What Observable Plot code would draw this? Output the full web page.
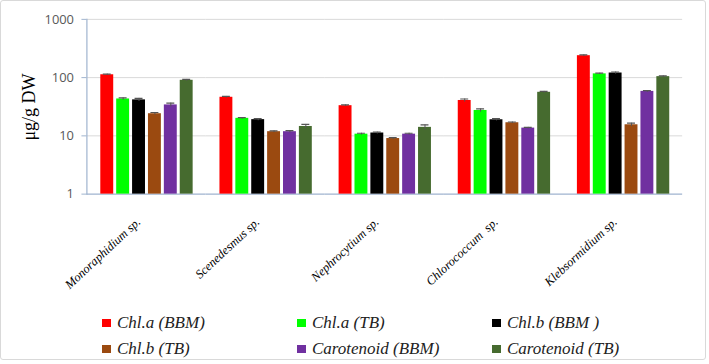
<!DOCTYPE html>
<html>
<head>
<meta charset="utf-8">
<script src="https://cdn.jsdelivr.net/npm/d3@7"></script>
<script src="https://cdn.jsdelivr.net/npm/@observablehq/plot@0.6"></script>
<style>
  html, body { margin: 0; padding: 0; background: #fff; }
  #frame {
    position: relative; box-sizing: border-box;
    width: 706px; height: 360px;
    border: 1px solid #d9d9d9; border-radius: 3px; background: #fff;
    overflow: hidden;
  }
  #chart svg { display: block; }
  #chart g[aria-label="y-axis tick label"] text { fill: #595959; font-family: "Open Sans", "Liberation Sans", sans-serif; font-size: 13px; }
  #chart g[aria-label="fx-axis tick label"] text { fill: #000; font-family: "Liberation Serif", "Times New Roman", Times, serif; font-style: italic; font-size: 12.5px; }
  #ylabel {
    position: absolute; left: 28px; top: 106px;
    transform: translate(-50%, -50%) rotate(-90deg);
    font-family: "Liberation Serif", "Times New Roman", Times, serif; font-size: 18px; color: #000;
    white-space: nowrap;
  }
  #legend {
    position: absolute; left: 101px; top: 312px;
    display: grid; grid-template-columns: 195px 195px 195px; row-gap: 6px;
    font-family: "Liberation Serif", "Times New Roman", Times, serif; font-style: italic; font-size: 17px; line-height: 20px; color: #222;
  }
  #legend .item { display: flex; align-items: center; white-space: pre; }
  #legend .sw { width: 9px; height: 8px; margin-right: 6px; }
</style>
</head>
<body>
<div id="frame">
  <div id="chart"></div>
  <div id="ylabel"></div>
  <div id="legend"></div>
</div>
<script>
// Pigment content of five microalgae grown in two media (log scale)
const species = ["Monoraphidium sp.", "Scenedesmus sp.", "Nephrocytium sp.", "Chlorococcum  sp.", "Klebsormidium sp."];
const seriesNames = ["Chl.a (BBM)", "Chl.a (TB)", "Chl.b (BBM )", "Chl.b (TB)", "Carotenoid (BBM)", "Carotenoid (TB)"];
const seriesColors = ["#ff0000", "#00ff00", "#000000", "#9b4a10", "#7030a0", "#466b2f"];
const yLabel = "μg/g DW";

// values (µg/g DW), one entry per species
const chlaBBM = [112, 46, 33, 40.5, 238];
const chlaTB  = [43, 20, 10.7, 27.3, 116];
const chlbBBM = [41.5, 19, 11.2, 18.9, 120];
const chlbTB  = [24, 11.8, 9, 16.8, 15.5];
const carBBM  = [34, 11.8, 10.7, 13.6, 58];
const carTB   = [90, 14.5, 14, 56, 104];

// standard deviations
const chlaBBMsd = [3, 1.5, 1, 2.5, 8];
const chlaTBsd  = [2, 0.6, 0.4, 1.8, 3];
const chlbBBMsd = [2.5, 0.8, 0.4, 0.8, 5];
const chlbTBsd  = [1.2, 0.4, 0.3, 0.5, 1];
const carBBMsd  = [2.5, 0.5, 0.4, 0.4, 2];
const carTBsd   = [3, 1.2, 1.4, 2, 3];

const yTicks = [1, 10, 100, 1000];

const valueSets = [chlaBBM, chlaTB, chlbBBM, chlbTB, carBBM, carTB];
const sdSets = [chlaBBMsd, chlaTBsd, chlbBBMsd, chlbTBsd, carBBMsd, carTBsd];

const rows = [];
species.forEach((sp, i) => {
  seriesNames.forEach((s, j) => {
    rows.push({species: sp, series: s, value: valueSets[j][i], sd: sdSets[j][i]});
  });
});

const axisColor = "#9fb3cf";

const chart = Plot.plot({
  width: 709,
  height: 300,
  marginLeft: 86,
  marginRight: 23,
  marginTop: 18,
  marginBottom: 106,
  style: {background: "transparent", overflow: "visible"},
  fx: {domain: species, paddingInner: 0, paddingOuter: 0, label: null, axis: null},
  x: {domain: seriesNames, paddingInner: 0.2, paddingOuter: 0.85, axis: null, label: null},
  y: {type: "log", domain: [1, 1000], axis: null},
  color: {domain: seriesNames, range: seriesColors},
  marks: [
    Plot.gridY(yTicks.slice(1), {stroke: "#d9d9d9", strokeOpacity: 1}),
    Plot.ruleY([1], {stroke: axisColor, strokeWidth: 1.2}),
    Plot.barY(rows, {fx: "species", x: "series", y1: 1, y2: "value", fill: "series"}),
    Plot.ruleX(rows, {fx: "species", x: "series", y1: d => d.value - d.sd, y2: d => d.value + d.sd, stroke: "#555", strokeWidth: 1}),
    Plot.tickY(rows, {fx: "species", x: "series", y: d => d.value + d.sd, stroke: "#555", strokeWidth: 1.2, inset: 2.5}),
    Plot.axisY(yTicks, {
      anchor: "left", tickFormat: d => `${d}`, tickSize: 5, tickPadding: 8, stroke: axisColor, label: null
    }),
    Plot.frame({anchor: "left", stroke: axisColor, strokeWidth: 1.2, facetAnchor: "left"}),
    Plot.axisFx({anchor: "bottom", tickSize: 0, tickPadding: 20, tickRotate: -43, label: null, dx: -8, dy: 6})
  ]
});
document.getElementById("chart").appendChild(chart);
document.getElementById("ylabel").textContent = yLabel;

// legend in three columns, two rows
const legend = document.getElementById("legend");
seriesNames.forEach((s, j) => {
  const item = document.createElement("div");
  item.className = "item";
  const sw = document.createElement("span");
  sw.className = "sw";
  sw.style.background = seriesColors[j];
  item.appendChild(sw);
  item.appendChild(document.createTextNode(s));
  legend.appendChild(item);
});
</script>
</body>
</html>
